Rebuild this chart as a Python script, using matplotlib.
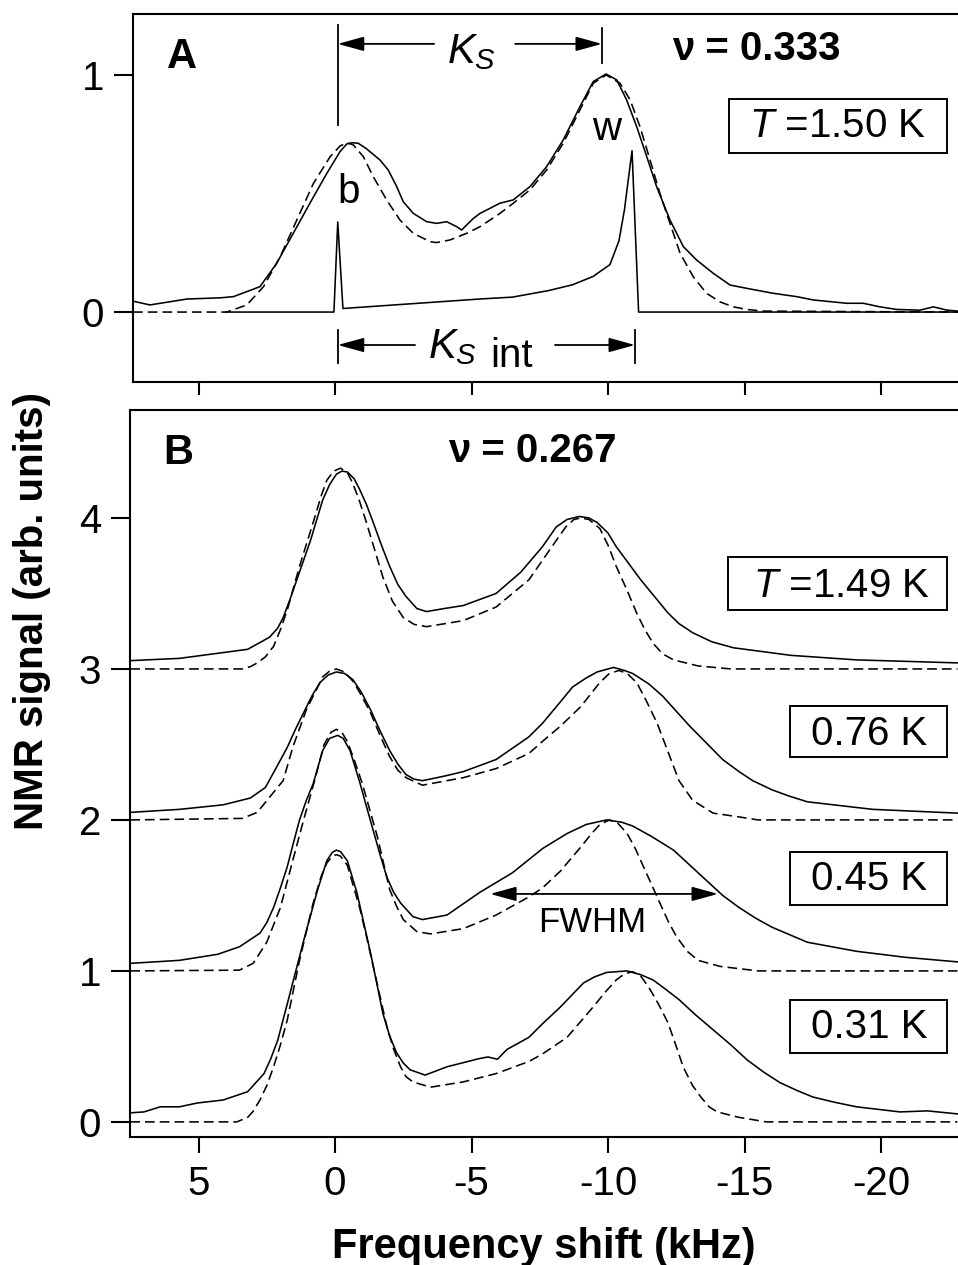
import matplotlib
matplotlib.use("Agg")
import matplotlib.pyplot as plt
from matplotlib.patches import Rectangle

plt.rcParams['font.family'] = ['Liberation Sans', 'DejaVu Sans']
plt.rcParams['mathtext.fontset'] = 'custom'
plt.rcParams['mathtext.rm'] = 'Liberation Sans'
plt.rcParams['mathtext.it'] = 'Liberation Sans:italic'
plt.rcParams['axes.unicode_minus'] = False
plt.rcParams['lines.scale_dashes'] = False

# ---------------- panel A : nu = 0.333, T = 1.50 K ----------------
a_meas_x = [7.40, 6.78, 5.42, 4.21, 3.72, 2.75, 2.14, 1.53, 0.92, 0.30, -0.18, -0.43, -0.63,
            -0.85, -1.16, -1.65, -1.95, -2.26, -2.50, -2.87, -3.36, -3.72, -4.09, -4.46,
            -4.64, -4.82, -5.07, -5.31, -6.04, -6.53, -7.14, -7.75, -8.36, -8.97, -9.46,
            -9.93, -10.32, -10.68, -11.05, -11.42, -11.78, -12.27, -12.76, -13.25, -13.86,
            -14.47, -15.08, -16.06, -16.91, -17.52, -18.74, -19.35, -19.96, -20.57, -21.43,
            -21.92, -22.41, -22.82]
a_meas_y = [0.046, 0.030, 0.055, 0.060, 0.065, 0.107, 0.205, 0.332, 0.459, 0.585, 0.676,
            0.709, 0.714, 0.712, 0.688, 0.641, 0.599, 0.529, 0.465, 0.416, 0.381, 0.374,
            0.381, 0.360, 0.346, 0.367, 0.395, 0.416, 0.459, 0.473, 0.529, 0.613, 0.726,
            0.866, 0.972, 1.004, 0.979, 0.895, 0.782, 0.655, 0.529, 0.388, 0.276, 0.219,
            0.163, 0.114, 0.100, 0.079, 0.065, 0.051, 0.037, 0.037, 0.022, 0.011, 0.008,
            0.022, 0.008, 0.004]

a_fit_x = [7.40, 3.97, 3.23, 2.62, 2.01, 1.40, 0.79, 0.18, -0.18, -0.43, -0.67, -1.04,
           -1.40, -1.89, -2.38, -2.87, -3.48, -3.72, -4.21, -4.82, -5.31, -6.04, -6.53,
           -7.14, -7.75, -8.36, -8.97, -9.46, -9.93, -10.44, -10.81, -11.17, -11.54,
           -11.90, -12.27, -12.64, -13.12, -13.61, -14.10, -14.59, -15.08, -15.69, -22.82]
a_fit_y = [0.0, 0.0, 0.030, 0.107, 0.233, 0.388, 0.543, 0.655, 0.700, 0.714, 0.705,
           0.655, 0.571, 0.473, 0.388, 0.332, 0.297, 0.293, 0.304, 0.332, 0.360, 0.416,
           0.459, 0.515, 0.599, 0.712, 0.852, 0.965, 1.0, 0.965, 0.895, 0.782, 0.641,
           0.501, 0.374, 0.248, 0.149, 0.079, 0.043, 0.022, 0.011, 0.004, 0.0]

a_theory_x = [4.0, 0.04, -0.10, -0.29, -5.3, -6.5, -7.8, -8.7, -9.45, -10.07, -10.4,
              -10.6, -10.8, -10.88, -11.12, -22.82]
a_theory_y = [0.0, 0.0, 0.38, 0.015, 0.055, 0.063, 0.09, 0.115, 0.15, 0.20, 0.30,
              0.43, 0.61, 0.68, 0.0, 0.0]

ks_b, ks_w = -0.10, -9.78        # K_S markers
ks_int_w = -10.99                # K_S int marker

# ---------------- panel B : nu = 0.267 ----------------
b_labels = ['$T$ =1.49 K', '0.76 K', '0.45 K', '0.31 K']
b_offsets = [3, 2, 1, 0]

b_meas_x = [
    [7.5, 5.7, 3.2, 2.4, 2.1, 1.9, 1.65, 1.4, 1.15, 0.9, 0.45, 0.2, -0.05, -0.25, -0.45,
     -0.7, -0.9, -1.15, -1.4, -1.7, -2.0, -2.3, -2.6, -3.0, -3.35, -4.0, -4.7, -5.9, -6.8,
     -7.6, -8.1, -8.5, -8.95, -9.3, -9.6, -10.0, -10.3, -10.75, -11.2, -11.7, -12.2,
     -12.6, -13.1, -13.8, -14.6, -16.7, -19.1, -22.8],
    [7.5, 5.7, 4.1, 3.1, 2.55, 2.2, 1.75, 1.45, 1.15, 0.85, 0.55, 0.25, -0.05, -0.35, -0.65,
     -0.95, -1.3, -1.65, -2.0, -2.3, -2.6, -2.9, -3.2, -4.0, -4.7, -5.9, -7.1, -7.6, -8.2,
     -8.7, -9.2, -9.6, -10.2, -10.6, -10.9, -11.5, -12.0, -12.5, -13.0, -13.6, -14.2,
     -14.8, -15.3, -16.0, -16.6, -17.3, -19.7, -22.8],
    [7.5, 5.7, 4.3, 3.5, 2.75, 2.5, 2.25, 2.0, 1.75, 1.55, 1.3, 1.05, 0.8, 0.45, 0.2, -0.1,
     -0.3, -0.55, -0.92, -1.15, -1.4, -1.65, -1.9, -2.15, -2.4, -2.85, -3.2, -4.1, -5.3,
     -6.5, -7.6, -8.5, -9.2, -9.95, -10.5, -10.9, -11.6, -12.4, -13.0, -13.6, -14.2,
     -14.8, -15.4, -16.0, -17.3, -19.1, -20.9, -22.8],
    [7.5, 7.0, 6.4, 5.7, 5.05, 4.1, 3.2, 2.6, 2.35, 2.1, 1.65, 1.15, 0.65, 0.3, 0.1, -0.05,
     -0.2, -0.45, -0.8, -1.05, -1.3, -1.55, -1.75, -2.0, -2.25, -2.5, -2.75, -3.3, -4.1,
     -5.3, -5.6, -5.95, -6.3, -7.1, -7.6, -8.25, -9.1, -9.5, -9.95, -10.7, -11.2, -11.65,
     -12.1, -12.6, -13.2, -13.85, -14.5, -15.1, -15.7, -16.3, -16.9, -17.5, -18.3, -19.1,
     -20.7, -21.7, -22.8],
]
b_meas_y = [
    [0.055, 0.07, 0.13, 0.21, 0.27, 0.34, 0.46, 0.59, 0.72, 0.85, 1.12, 1.22, 1.29, 1.31,
     1.305, 1.26, 1.19, 1.09, 0.97, 0.82, 0.68, 0.56, 0.48, 0.40, 0.38, 0.40, 0.42, 0.50,
     0.64, 0.81, 0.94, 0.99, 1.01, 1.0, 0.97, 0.90, 0.81, 0.70, 0.59, 0.48, 0.37, 0.30,
     0.24, 0.18, 0.14, 0.09, 0.06, 0.04],
    [0.05, 0.07, 0.10, 0.145, 0.215, 0.33, 0.48, 0.60, 0.71, 0.82, 0.91, 0.96, 0.98, 0.97,
     0.93, 0.85, 0.73, 0.59, 0.46, 0.37, 0.30, 0.27, 0.26, 0.29, 0.32, 0.40, 0.55, 0.64,
     0.77, 0.88, 0.94, 0.98, 1.01, 0.99, 0.97, 0.90, 0.82, 0.72, 0.62, 0.51, 0.40, 0.32,
     0.26, 0.20, 0.16, 0.12, 0.07, 0.045],
    [0.05, 0.07, 0.11, 0.16, 0.25, 0.32, 0.42, 0.55, 0.69, 0.83, 1.0, 1.13, 1.24, 1.46, 1.54,
     1.56, 1.54, 1.46, 1.24, 1.09, 0.93, 0.77, 0.62, 0.52, 0.45, 0.36, 0.34, 0.37, 0.52,
     0.65, 0.81, 0.91, 0.97, 1.0, 0.985, 0.96, 0.89, 0.80, 0.70, 0.60, 0.50, 0.42, 0.35,
     0.29, 0.19, 0.13, 0.09, 0.06],
    [0.06, 0.066, 0.10, 0.10, 0.125, 0.145, 0.20, 0.32, 0.42, 0.54, 0.85, 1.20, 1.53, 1.73,
     1.785, 1.80, 1.79, 1.73, 1.52, 1.32, 1.12, 0.90, 0.72, 0.57, 0.46, 0.39, 0.345, 0.31,
     0.365, 0.42, 0.43, 0.415, 0.48, 0.56, 0.65, 0.76, 0.92, 0.96, 0.99, 1.0, 0.975, 0.94,
     0.88, 0.81, 0.71, 0.61, 0.51, 0.41, 0.33, 0.26, 0.21, 0.165, 0.13, 0.10, 0.066,
     0.073, 0.053],
]

b_fit_x = [
    [7.5, 3.4, 3.1, 2.85, 2.55, 2.25, 2.0, 1.75, 1.3, 0.8, 0.5, 0.3, 0.05, -0.2, -0.45,
     -0.65, -0.9, -1.15, -1.45, -1.75, -2.1, -2.5, -2.9, -3.35, -4.7, -5.9, -7.1, -7.6,
     -8.1, -8.45, -8.75, -9.0, -9.3, -9.7, -10.0, -10.3, -10.7, -11.05, -11.35, -11.65,
     -12.0, -12.4, -13.3, -14.5, -22.8],
    [7.5, 3.4, 2.85, 2.4, 1.9, 1.55, 1.05, 0.44, 0.2, -0.05, -0.35, -0.65, -0.95, -1.3,
     -1.65, -2.0, -2.3, -2.6, -3.2, -4.7, -5.9, -7.1, -7.6, -8.25, -9.0, -9.35, -9.7,
     -10.05, -10.4, -10.7, -11.05, -11.4, -11.8, -12.2, -12.6, -13.1, -13.85, -14.8,
     -15.5, -22.8],
    [7.5, 3.5, 3.0, 2.5, 2.0, 1.55, 1.15, 0.75, 0.4, 0.15, -0.05, -0.25, -0.45, -0.7,
     -1.0, -1.55, -2.0, -2.25, -2.5, -3.0, -3.5, -4.7, -5.9, -7.1, -7.6, -8.25, -9.0,
     -9.4, -9.7, -10.05, -10.35, -10.7, -11.0, -11.3, -11.6, -11.9, -12.2, -12.5,
     -12.9, -13.3, -14.1, -15.5, -22.8],
    [7.5, 3.6, 3.2, 3.0, 2.75, 2.5, 2.25, 2.0, 1.75, 1.3, 0.8, 0.5, 0.3, 0.1, -0.05,
     -0.2, -0.45, -0.9, -1.15, -1.4, -1.65, -1.9, -2.15, -2.4, -2.6, -2.85, -3.5, -4.7,
     -5.9, -7.1, -7.6, -8.5, -9.45, -9.9, -10.3, -10.6, -10.9, -11.2, -11.5, -11.85,
     -12.2, -12.5, -12.75, -13.1, -13.4, -13.7, -14.0, -14.8, -15.8, -22.8],
]
b_fit_y = [
    [0.0, 0.0, 0.015, 0.04, 0.08, 0.15, 0.26, 0.39, 0.68, 0.97, 1.15, 1.25, 1.31, 1.33,
     1.30, 1.23, 1.11, 0.97, 0.79, 0.61, 0.45, 0.34, 0.295, 0.28, 0.32, 0.41, 0.59, 0.72,
     0.85, 0.94, 0.99, 1.0, 0.99, 0.93, 0.82, 0.68, 0.52, 0.37, 0.26, 0.17, 0.10, 0.06,
     0.02, 0.0, 0.0],
    [0.0, 0.01, 0.05, 0.15, 0.26, 0.48, 0.73, 0.95, 0.985, 1.0, 0.98, 0.92, 0.83, 0.71,
     0.56, 0.42, 0.33, 0.28, 0.23, 0.28, 0.34, 0.44, 0.52, 0.62, 0.75, 0.83, 0.91, 0.97,
     0.99, 0.97, 0.91, 0.79, 0.64, 0.45, 0.26, 0.13, 0.045, 0.02, 0.0, 0.0],
    [0.0, 0.005, 0.05, 0.19, 0.42, 0.73, 1.0, 1.26, 1.5, 1.58, 1.60, 1.58, 1.52, 1.40,
     1.24, 0.89, 0.54, 0.43, 0.34, 0.26, 0.245, 0.28, 0.37, 0.49, 0.55, 0.66, 0.82, 0.91,
     0.97, 1.0, 0.98, 0.91, 0.81, 0.69, 0.57, 0.45, 0.33, 0.23, 0.13, 0.07, 0.03, 0.0, 0.0],
    [0.0, 0.0, 0.03, 0.07, 0.145, 0.24, 0.365, 0.51, 0.675, 1.07, 1.45, 1.63, 1.715, 1.76,
     1.77, 1.76, 1.70, 1.42, 1.23, 1.03, 0.83, 0.63, 0.48, 0.365, 0.30, 0.265, 0.23, 0.265,
     0.32, 0.40, 0.45, 0.56, 0.76, 0.86, 0.94, 0.98, 0.995, 0.965, 0.89, 0.78, 0.655, 0.50,
     0.365, 0.24, 0.165, 0.10, 0.066, 0.03, 0.0, 0.0],
]

fwhm_x = (-5.68, -14.03)
fwhm_y = 1.51

x_ticks = [5, 0, -5, -10, -15, -20]

# ---------------- figure ----------------
W, H = 958, 1265
fig = plt.figure(figsize=(W / 100, H / 100), dpi=100)


def add_axes_px(left, top, right, bottom):
    return fig.add_axes([left / W, 1 - bottom / H, (right - left) / W, (bottom - top) / H])


def fig_xy(px, py):
    return px / W, 1 - py / H


solid = dict(color='k', lw=1.15)
dashed = dict(color='k', lw=1.15, ls=(0, (7, 3.6)))
arrow = dict(arrowstyle='-|>,head_length=0.8,head_width=0.22', color='k', lw=1.3,
             shrinkA=0, shrinkB=0, mutation_scale=20)
FS = 29

axA = add_axes_px(133, 14, 958, 382)
axB = add_axes_px(130, 410, 958, 1137)

for ax in (axA, axB):
    for s in ax.spines.values():
        s.set_linewidth(1.5)
    ax.spines['right'].set_visible(False)
    ax.set_xticks(x_ticks)
    ax.tick_params(direction='out', width=1.5, labelsize=FS, top=False, right=False)
    ax.tick_params(axis='y', length=13.7, pad=7)

# panel A
axA.plot(a_fit_x, a_fit_y, **dashed)
axA.plot(a_meas_x, a_meas_y, **solid)
axA.plot(a_theory_x, a_theory_y, **solid)
axA.set_xlim(7.40, -22.82)
axA.set_ylim(-0.295, 1.257)
axA.set_yticks([0, 1])
axA.tick_params(axis='x', length=9.4, labelbottom=False)

bar = dict(color='k', lw=1.3)
axA.plot([ks_b, ks_b], [0.79, 1.21], **bar)
axA.plot([ks_w, ks_w], [1.05, 1.20], **bar)
axA.annotate('', xy=(ks_b, 1.131), xytext=(-3.63, 1.131), arrowprops=arrow)
axA.annotate('', xy=(ks_w, 1.131), xytext=(-6.6, 1.131), arrowprops=arrow)
axA.text(-4.10, 1.05, r'$K_S$', fontsize=30, ha='left', va='baseline')

axA.plot([ks_b, ks_b], [-0.076, -0.215], **bar)
axA.plot([ks_int_w, ks_int_w], [-0.076, -0.215], **bar)
axA.annotate('', xy=(ks_b, -0.139), xytext=(-2.93, -0.139), arrowprops=arrow)
axA.annotate('', xy=(ks_int_w, -0.139), xytext=(-8.06, -0.139), arrowprops=arrow)
axA.text(-3.41, -0.194, r'$K_S$', fontsize=30, ha='left', va='baseline')
axA.text(-5.68, -0.232, 'int', fontsize=FS, ha='left', va='baseline')

axA.text(6.15, 1.03, 'A', fontsize=30, fontweight='bold', ha='left', va='baseline')
axA.text(-12.34, 1.063, 'ν = 0.333', fontsize=FS, fontweight='bold', ha='left', va='baseline')
axA.text(-0.5, 0.46, 'b', fontsize=FS, ha='center', va='baseline')
axA.text(-9.96, 0.726, 'w', fontsize=FS, ha='center', va='baseline')

# panel B
for xs, ys, fx, fy, off in zip(b_meas_x, b_meas_y, b_fit_x, b_fit_y, b_offsets):
    axB.plot(fx, [v + off for v in fy], **dashed)
    axB.plot(xs, [v + off for v in ys], **solid)
axB.set_xlim(7.51, -22.82)
axB.set_ylim(-0.1, 4.715)
axB.set_yticks([0, 1, 2, 3, 4])
axB.set_xticklabels([str(t) for t in x_ticks])
axB.tick_params(axis='x', length=11.5, pad=9)

axB.text(6.3, 4.36, 'B', fontsize=30, fontweight='bold', ha='left', va='baseline')
axB.text(-4.14, 4.37, 'ν = 0.267', fontsize=FS, fontweight='bold', ha='left', va='baseline')

axB.annotate('', xy=(fwhm_x[0], fwhm_y), xytext=(fwhm_x[1], fwhm_y),
             arrowprops=dict(arrow, arrowstyle='<|-|>,head_length=0.8,head_width=0.22'))
axB.text(-9.41, 1.26, 'FWHM', fontsize=25, ha='center', va='baseline')

# temperature boxes (pixel layout)
boxA = [(729, 99, 947, 153, 838, 137)]
boxB = [(728, 557, 947, 610, 842, 597),
        (790, 706, 947, 757, 869, 745),
        (790, 852, 947, 905, 869, 890),
        (790, 1000, 947, 1053, 869, 1038)]
for (l, t, r, b, cx, base), lab in zip(boxA + boxB, ['$T$ =1.50 K'] + b_labels):
    x0, y0 = fig_xy(l, b)
    fig.add_artist(Rectangle((x0, y0), (r - l) / W, (b - t) / H, transform=fig.transFigure,
                             fill=False, ec='k', lw=1.4))
    tx, ty = fig_xy(cx, base)
    fig.text(tx, ty, lab, fontsize=FS, ha='center', va='baseline')

# axis labels
fig.text(*fig_xy(544, 1258), 'Frequency shift (kHz)', fontsize=30, fontweight='bold',
         ha='center', va='baseline')
fig.text(*fig_xy(13, 611), 'NMR signal (arb. units)', fontsize=29, fontweight='bold',
         rotation=90, ha='left', va='center')

fig.savefig('out.png', dpi=100)
